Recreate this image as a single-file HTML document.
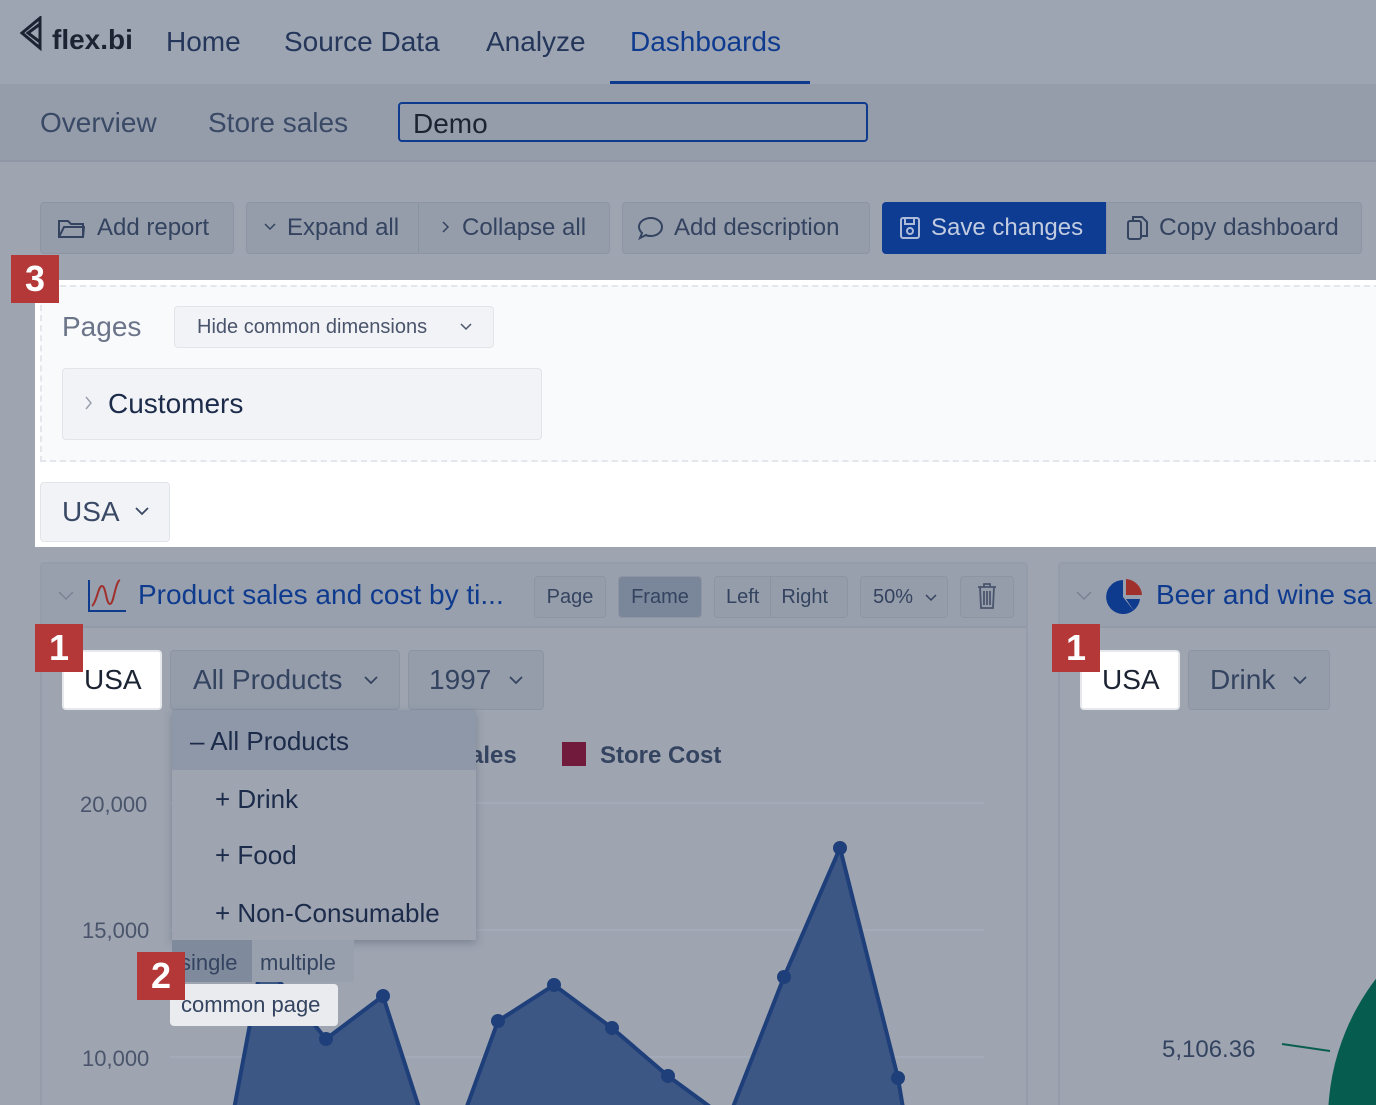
<!DOCTYPE html>
<html><head><meta charset="utf-8"><style>
*{box-sizing:border-box;margin:0;padding:0}
html,body{width:1376px;height:1105px;overflow:hidden}
body{background:#9ea5b1;font-family:"Liberation Sans",sans-serif;color:#2f3d5c;position:relative}
.a{position:absolute;white-space:nowrap}
.btn{position:absolute;background:#959dab;border:1px solid #8d95a4;border-radius:4px;font-size:24px;color:#34435f;display:flex;align-items:center}
.badge{position:absolute;background:#b43837;color:#fff;font-weight:bold;font-size:36px;width:48px;height:48px;display:flex;align-items:center;justify-content:center}
</style></head><body>
<div class="a" style="left:0;top:0;width:1376px;height:82px;background:#9ea5b2"></div>
<svg class="a" style="left:18px;top:16px" width="26" height="36"><path d="M22 2 L4 17 L22 32 Z M22 8 L10 17 L22 26" fill="none" stroke="#1c2433" stroke-width="3"/></svg>
<div class="a" style="left:52px;top:24px;font-size:28px;font-weight:bold;color:#1c2433">flex.bi</div>
<div class="a" style="left:166px;top:26px;font-size:28px;color:#24365a">Home</div>
<div class="a" style="left:284px;top:26px;font-size:28px;color:#24365a">Source Data</div>
<div class="a" style="left:486px;top:26px;font-size:28px;color:#24365a">Analyze</div>
<div class="a" style="left:630px;top:26px;font-size:28px;color:#0f3b8f">Dashboards</div>
<div class="a" style="left:610px;top:81px;width:200px;height:3px;background:#0f3b8f"></div>
<div class="a" style="left:0;top:84px;width:1376px;height:78px;background:#959dab;border-bottom:2px solid #8f97a6"></div>
<div class="a" style="left:40px;top:107px;font-size:28px;color:#3a4965">Overview</div>
<div class="a" style="left:208px;top:107px;font-size:28px;color:#3a4965">Store sales</div>
<div class="a" style="left:398px;top:102px;width:470px;height:40px;border:2px solid #0f3b8f;border-radius:4px"></div>
<div class="a" style="left:413px;top:108px;font-size:28px;color:#1c2433">Demo</div>
<div class="btn" style="left:40px;top:202px;width:194px;height:52px;padding-left:56px">Add report</div>
<svg class="a" style="left:57px;top:217px" width="28" height="22"><path d="M2 4h9l3 3h12v13H2z M2 20l5-10h20l-1 10" fill="none" stroke="#34435f" stroke-width="2"/></svg>
<div class="btn" style="left:246px;top:202px;width:364px;height:52px"></div>
<div class="a" style="left:418px;top:203px;width:1px;height:50px;background:#8a93a3"></div>
<svg class="a" style="left:264px;top:223px" width="12" height="8"><path d="M1 1l5 5 5-5" fill="none" stroke="#34435f" stroke-width="1.5"/></svg>
<div class="a" style="left:287px;top:214px;font-size:24px;color:#34435f">Expand all</div>
<svg class="a" style="left:442px;top:221px" width="8" height="12"><path d="M1 1l5 5-5 5" fill="none" stroke="#34435f" stroke-width="1.5"/></svg>
<div class="a" style="left:462px;top:214px;font-size:24px;color:#34435f">Collapse all</div>
<div class="btn" style="left:622px;top:202px;width:248px;height:52px;padding-left:51px">Add description</div>
<svg class="a" style="left:637px;top:215px" width="28" height="26"><path d="M14 3c6 0 11 4 11 9s-5 9-11 9c-2 0-4 0-5-1l-6 3 2-5c-2-2-3-4-3-6 0-5 5-9 12-9z" fill="none" stroke="#34435f" stroke-width="2"/></svg>
<div class="a" style="left:882px;top:202px;width:224px;height:52px;background:#0e3c93;border-radius:4px 0 0 4px"></div>
<svg class="a" style="left:899px;top:216px" width="22" height="24"><rect x="2" y="2" width="18" height="20" rx="2" fill="none" stroke="#aebbd8" stroke-width="2"/><rect x="6" y="2" width="9" height="6" fill="none" stroke="#aebbd8" stroke-width="2"/><circle cx="11" cy="15" r="3" fill="none" stroke="#aebbd8" stroke-width="2"/></svg>
<div class="a" style="left:931px;top:214px;font-size:24px;color:#c2cce0">Save changes</div>
<div class="btn" style="left:1106px;top:202px;width:256px;height:52px;padding-left:52px;border-radius:0 4px 4px 0;font-size:24.5px">Copy dashboard</div>
<svg class="a" style="left:1126px;top:215px" width="24" height="28"><rect x="2" y="6" width="13" height="18" rx="2" fill="none" stroke="#34435f" stroke-width="2"/><path d="M7 6V2h9l5 5v14h-6" fill="none" stroke="#34435f" stroke-width="2"/></svg>
<div class="a" style="left:35px;top:280px;width:1341px;height:267px;background:#fff"></div>
<div class="a" style="left:40px;top:285px;width:1340px;height:177px;background:#f9fafc;border:2px dashed #e3e6eb"></div>
<div class="a" style="left:62px;top:311px;font-size:28px;color:#6b7489">Pages</div>
<div class="a" style="left:174px;top:306px;width:320px;height:42px;background:#f2f3f6;border:1px solid #e1e4e9;border-radius:4px"></div>
<div class="a" style="left:197px;top:316px;font-size:20px;color:#4a556c">Hide common dimensions</div>
<svg class="a" style="left:460px;top:323px" width="12" height="8"><path d="M1 1l5 5 5-5" fill="none" stroke="#4a556c" stroke-width="1.5"/></svg>
<div class="a" style="left:62px;top:368px;width:480px;height:72px;background:#f2f3f6;border:1px solid #e1e4e9;border-radius:4px"></div>
<svg class="a" style="left:85px;top:396px" width="8" height="14"><path d="M1 1l5 6-5 6" fill="none" stroke="#98a0ae" stroke-width="1.5"/></svg>
<div class="a" style="left:108px;top:388px;font-size:28px;color:#1c2b4a">Customers</div>
<div class="a" style="left:40px;top:482px;width:130px;height:60px;background:#f2f3f6;border:1px solid #e1e4e9;border-radius:4px"></div>
<div class="a" style="left:62px;top:496px;font-size:28px;color:#3a4965">USA</div>
<svg class="a" style="left:135px;top:507px" width="14" height="9"><path d="M1 1l6 6 6-6" fill="none" stroke="#3a4965" stroke-width="1.8"/></svg>
<div class="badge" style="left:11px;top:255px">3</div>
<div class="a" style="left:40px;top:562px;width:988px;height:560px;border:2px solid #959dab;border-radius:4px"></div>
<div class="a" style="left:42px;top:564px;width:984px;height:64px;background:#98a0ad;border-bottom:2px solid #929aa8"></div>
<svg class="a" style="left:58px;top:591px" width="16" height="10"><path d="M1 1l7 7 7-7" fill="none" stroke="#7a8394" stroke-width="1.5"/></svg>
<svg class="a" style="left:86px;top:578px" width="42" height="36"><path d="M3 2v31h37" fill="none" stroke="#0f3b8f" stroke-width="2"/><path d="M6 28c5-4 6-20 10-20s4 18 8 18 5-22 10-24" fill="none" stroke="#a0302c" stroke-width="2"/></svg>
<div class="a" style="left:138px;top:579px;font-size:28px;color:#0f3b8f">Product sales and cost by ti...</div>
<div class="btn" style="left:534px;top:576px;width:72px;height:42px;font-size:20px;justify-content:center">Page</div>
<div class="btn" style="left:618px;top:576px;width:84px;height:42px;font-size:20px;justify-content:center;background:#7a869a">Frame</div>
<div class="btn" style="left:714px;top:576px;width:134px;height:42px;font-size:20px"><span style="padding:0 11px">Left</span><span style="border-left:1px solid #8a93a3;padding:9px 10px">Right</span></div>
<div class="btn" style="left:860px;top:576px;width:88px;height:42px;font-size:20px;padding-left:12px">50%</div>
<svg class="a" style="left:925px;top:594px" width="12" height="8"><path d="M1 1l5 5 5-5" fill="none" stroke="#34435f" stroke-width="1.5"/></svg>
<div class="btn" style="left:960px;top:576px;width:54px;height:42px"></div>
<svg class="a" style="left:976px;top:582px" width="22" height="28"><path d="M2 5h18M8 5V2h6v3M4 5l1 21h12l1-21M8 9v14M11 9v14M14 9v14" fill="none" stroke="#4a556c" stroke-width="1.8"/></svg>
<svg class="a" style="left:0;top:0" width="1376" height="1105">
<g stroke="#a6adba" stroke-width="1.5"><line x1="170" y1="803" x2="984" y2="803"/><line x1="170" y1="930" x2="984" y2="930"/><line x1="170" y1="1057" x2="984" y2="1057"/></g>
<path d="M232 1120 L262 960 L326 1039 L383 996 L423 1120 L462 1120 L498 1021 L554 985 L612 1028 L668 1076 L728 1120 L784 977 L840 848 L898 1078 L905 1120 Z" fill="#3d5785" stroke="#1e3f7a" stroke-width="4" stroke-linejoin="round"/>
<g fill="#1e3f7a"><circle cx="326" cy="1039" r="7"/><circle cx="383" cy="996" r="7"/><circle cx="498" cy="1021" r="7"/><circle cx="554" cy="985" r="7"/><circle cx="612" cy="1028" r="7"/><circle cx="668" cy="1076" r="7"/><circle cx="784" cy="977" r="7"/><circle cx="840" cy="848" r="7"/><circle cx="898" cy="1078" r="7"/></g>
<path d="M1282 1044 L1330 1051" stroke="#0a5e4f" stroke-width="2"/>
<circle cx="1560" cy="1120" r="232" fill="#065c4e"/>
</svg>
<div class="a" style="left:80px;top:792px;font-size:22px;color:#4a556c">20,000</div>
<div class="a" style="left:82px;top:918px;font-size:22px;color:#4a556c">15,000</div>
<div class="a" style="left:82px;top:1046px;font-size:22px;color:#4a556c">10,000</div>
<div class="a" style="left:470px;top:742px;font-size:24px;font-weight:bold;color:#34435f">ales</div>
<div class="a" style="left:562px;top:742px;width:24px;height:24px;background:#721a3c"></div>
<div class="a" style="left:600px;top:742px;font-size:24px;font-weight:bold;color:#34435f">Store Cost</div>
<div class="a" style="left:62px;top:650px;width:100px;height:60px;background:#fff;border:2px solid #e6e8ec;border-radius:4px"></div>
<div class="a" style="left:84px;top:664px;font-size:28px;color:#1c2433">USA</div>
<div class="btn" style="left:170px;top:650px;width:230px;height:60px;font-size:28px;padding-left:22px">All Products</div>
<svg class="a" style="left:364px;top:676px" width="14" height="9"><path d="M1 1l6 6 6-6" fill="none" stroke="#34435f" stroke-width="1.8"/></svg>
<div class="btn" style="left:408px;top:650px;width:136px;height:60px;font-size:28px;padding-left:20px">1997</div>
<svg class="a" style="left:509px;top:676px" width="14" height="9"><path d="M1 1l6 6 6-6" fill="none" stroke="#34435f" stroke-width="1.8"/></svg>
<div class="a" style="left:172px;top:710px;width:304px;height:230px;background:#9ea5b1;box-shadow:0 3px 8px rgba(60,70,90,.35)"></div>
<div class="a" style="left:172px;top:710px;width:304px;height:60px;background:#8f98a8"></div>
<div class="a" style="left:190px;top:726px;font-size:26px;color:#1c2b4a">– All Products</div>
<div class="a" style="left:215px;top:784px;font-size:26px;color:#1c2b4a">+ Drink</div>
<div class="a" style="left:215px;top:840px;font-size:26px;color:#1c2b4a">+ Food</div>
<div class="a" style="left:215px;top:898px;font-size:26px;color:#1c2b4a">+ Non-Consumable</div>
<div class="a" style="left:172px;top:940px;width:80px;height:42px;background:#7f8a9c"></div>
<div class="a" style="left:252px;top:940px;width:102px;height:42px;background:#98a0ad;border-radius:0 0 4px 0"></div>
<div class="a" style="left:180px;top:950px;font-size:22px;color:#34435f">single</div>
<div class="a" style="left:260px;top:950px;font-size:22px;color:#34435f">multiple</div>
<div class="a" style="left:170px;top:984px;width:168px;height:42px;background:#e9ebef;border-radius:4px"></div>
<div class="a" style="left:181px;top:992px;font-size:22px;color:#34435f">common page</div>
<div class="badge" style="left:35px;top:624px">1</div>
<div class="badge" style="left:137px;top:952px">2</div>
<div class="a" style="left:1058px;top:562px;width:340px;height:560px;border:2px solid #959dab;border-radius:4px"></div>
<div class="a" style="left:1060px;top:564px;width:320px;height:64px;background:#98a0ad;border-bottom:2px solid #929aa8"></div>
<svg class="a" style="left:1076px;top:591px" width="16" height="10"><path d="M1 1l7 7 7-7" fill="none" stroke="#7a8394" stroke-width="1.5"/></svg>
<svg class="a" style="left:1104px;top:577px" width="40" height="40"><path d="M19 3 A17 17 0 1 0 36 22 L22 22 L30 34 L19 20 Z" fill="#0f3b8f"/><path d="M22 2 A17 17 0 0 1 38 18 L22 18 Z" fill="#a0302c"/></svg>
<div class="a" style="left:1156px;top:579px;font-size:28px;color:#0f3b8f">Beer and wine sa</div>
<div class="a" style="left:1080px;top:650px;width:100px;height:60px;background:#fff;border:2px solid #e6e8ec;border-radius:4px"></div>
<div class="a" style="left:1102px;top:664px;font-size:28px;color:#1c2433">USA</div>
<div class="btn" style="left:1188px;top:650px;width:142px;height:60px;font-size:28px;padding-left:21px">Drink</div>
<svg class="a" style="left:1293px;top:676px" width="14" height="9"><path d="M1 1l6 6 6-6" fill="none" stroke="#34435f" stroke-width="1.8"/></svg>
<div class="a" style="left:1162px;top:1036px;font-size:24px;color:#34435f">5,106.36</div>
<div class="badge" style="left:1052px;top:624px">1</div>
</body></html>
